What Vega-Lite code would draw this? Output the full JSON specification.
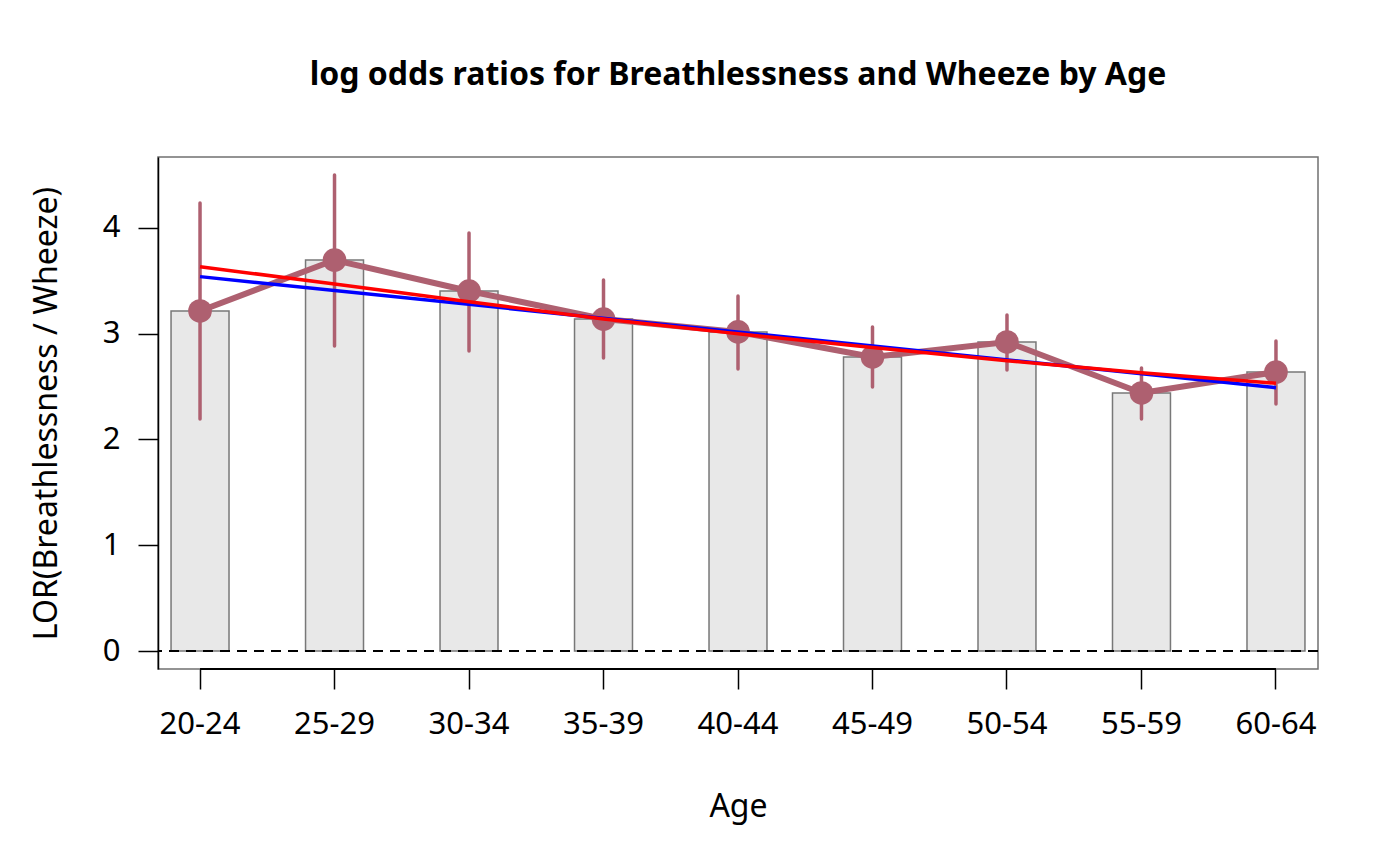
{
  "$schema": "https://vega.github.io/schema/vega-lite/v6.json",
  "width": 1160,
  "height": 512,
  "autosize": "none",
  "padding": {"left": 158, "top": 157, "right": 82, "bottom": 197},
  "background": "white",
  "config": {
    "font": "Noto Sans",
    "view": {"stroke": "#707070", "strokeWidth": 1.5}
  },
  "title": {
    "text": "log odds ratios for Breathlessness and Wheeze by Age",
    "fontSize": 32,
    "fontWeight": "bold",
    "color": "black",
    "anchor": "middle",
    "baseline": "alphabetic",
    "offset": 40
  },
  "datasets": {
    "lor": [
      {"age": "20-24", "lor": 3.215, "lo": 2.194, "hi": 4.236},
      {"age": "25-29", "lor": 3.697, "lo": 2.884, "hi": 4.501},
      {"age": "30-34", "lor": 3.404, "lo": 2.837, "hi": 3.953},
      {"age": "35-39", "lor": 3.139, "lo": 2.771, "hi": 3.508},
      {"age": "40-44", "lor": 3.017, "lo": 2.667, "hi": 3.357},
      {"age": "45-49", "lor": 2.780, "lo": 2.496, "hi": 3.064},
      {"age": "50-54", "lor": 2.922, "lo": 2.657, "hi": 3.177},
      {"age": "55-59", "lor": 2.440, "lo": 2.194, "hi": 2.676},
      {"age": "60-64", "lor": 2.638, "lo": 2.336, "hi": 2.931}
    ],
    "linear": [
      {"age": "20-24", "fit": 3.540},
      {"age": "60-64", "fit": 2.490}
    ],
    "smooth": [
      {"age": "20-24", "fit": 3.634},
      {"age": "25-29", "fit": 3.470},
      {"age": "30-34", "fit": 3.303},
      {"age": "35-39", "fit": 3.140},
      {"age": "40-44", "fit": 3.000},
      {"age": "45-49", "fit": 2.870},
      {"age": "50-54", "fit": 2.745},
      {"age": "55-59", "fit": 2.630},
      {"age": "60-64", "fit": 2.531}
    ],
    "single": [{}]
  },
  "layer": [
    {
      "data": {"name": "lor"},
      "mark": {"type": "bar", "fill": "#E8E8E8", "stroke": "#787878", "strokeWidth": 1.5},
      "encoding": {
        "x": {
          "field": "age",
          "type": "nominal",
          "title": "Age",
          "scale": {
            "type": "band",
            "domain": ["20-24", "25-29", "30-34", "35-39", "40-44", "45-49", "50-54", "55-59", "60-64"],
            "paddingInner": 0.569,
            "paddingOuter": 0.097
          },
          "axis": {
            "labelAngle": 0,
            "labelFontSize": 31,
            "labelColor": "black",
            "labelPadding": 20,
            "titleFontSize": 32,
            "titleFontWeight": "normal",
            "titleColor": "black",
            "titlePadding": 52,
            "domain": false,
            "tickColor": "black",
            "tickWidth": 1.5,
            "tickSize": 20
          }
        },
        "y": {
          "field": "lor",
          "type": "quantitative",
          "title": "LOR(Breathlessness / Wheeze)",
          "scale": {"domain": [-0.17, 4.671], "nice": false, "zero": false},
          "axis": {
            "values": [0, 1, 2, 3, 4],
            "format": "d",
            "grid": false,
            "labelFontSize": 31,
            "labelColor": "black",
            "labelPadding": 18,
            "titleFontSize": 32,
            "titleFontWeight": "normal",
            "titleColor": "black",
            "titlePadding": 39,
            "domainColor": "black",
            "domainWidth": 1.5,
            "tickColor": "black",
            "tickWidth": 1.5,
            "tickSize": 20
          }
        },
        "y2": {"datum": 0}
      }
    },
    {
      "data": {"name": "single"},
      "mark": {"type": "rule", "color": "black", "strokeWidth": 2, "strokeDash": [10, 7]},
      "encoding": {"y": {"datum": 0}}
    },
    {
      "data": {"name": "single"},
      "mark": {"type": "rule", "color": "black", "strokeWidth": 2},
      "encoding": {
        "x": {"datum": "20-24"},
        "x2": {"datum": "60-64"},
        "y": {"datum": -0.17}
      }
    },
    {
      "data": {"name": "lor"},
      "mark": {"type": "rule", "color": "#AE6070", "strokeWidth": 3.5, "strokeCap": "round"},
      "encoding": {
        "x": {"field": "age", "type": "nominal"},
        "y": {"field": "lo", "type": "quantitative"},
        "y2": {"field": "hi"}
      }
    },
    {
      "data": {"name": "lor"},
      "mark": {"type": "line", "color": "#AE6070", "strokeWidth": 6},
      "encoding": {
        "x": {"field": "age", "type": "nominal"},
        "y": {"field": "lor", "type": "quantitative"}
      }
    },
    {
      "data": {"name": "lor"},
      "mark": {"type": "circle", "color": "#AE6070", "size": 560, "opacity": 1},
      "encoding": {
        "x": {"field": "age", "type": "nominal"},
        "y": {"field": "lor", "type": "quantitative"}
      }
    },
    {
      "data": {"name": "linear"},
      "mark": {"type": "line", "color": "#0000FF", "strokeWidth": 3.5},
      "encoding": {
        "x": {"field": "age", "type": "nominal"},
        "y": {"field": "fit", "type": "quantitative"}
      }
    },
    {
      "data": {"name": "smooth"},
      "mark": {"type": "line", "color": "#FF0000", "strokeWidth": 3.5, "interpolate": "monotone"},
      "encoding": {
        "x": {"field": "age", "type": "nominal"},
        "y": {"field": "fit", "type": "quantitative"}
      }
    }
  ]
}
